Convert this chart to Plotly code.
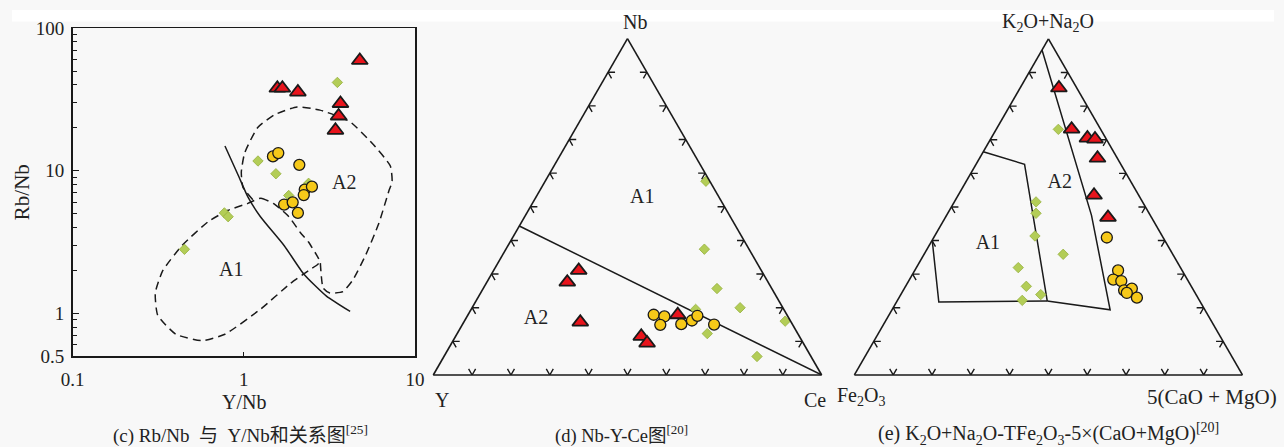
import numpy as np
import plotly.graph_objects as go

INK = "#1a1a1a"
RED = "#e8141c"
YEL = "#f6c919"
GRN = "#b3cd57"
GRN_EDGE = "#95b03e"
BG = "#f8f8f8"
SERIF = "Liberation Serif, 'Noto Sans CJK SC', serif"

# ---------------- (c) Rb/Nb vs Y/Nb ----------------
c_tri_ynb = [1.57, 1.68, 2.07, 4.76, 3.67, 3.58, 3.43]
c_tri_rbnb = [37.9, 37.9, 35.6, 59.3, 29.6, 24.2, 19.2]
c_cir_ynb = [1.48, 1.59, 2.11, 2.27, 2.50, 2.24, 1.72, 1.93, 2.07]
c_cir_rbnb = [12.6, 13.3, 11.0, 7.37, 7.73, 6.75, 5.79, 6.00, 5.06]
c_dia_ynb = [3.52, 1.21, 1.54, 2.39, 1.83, 0.77, 0.81, 0.45]
c_dia_rbnb = [41.6, 11.7, 9.52, 8.16, 6.70, 5.06, 4.76, 2.81]

# field boundaries
c_div_x = [0.776, 0.926, 1.056, 1.254, 1.723, 2.244, 3.04, 4.18]
c_div_y = [14.9, 9.33, 6.55, 4.74, 2.98, 1.88, 1.32, 1.03]
c_a1_x = [1.056, 1.259, 1.503, 1.834, 2.138, 2.388, 2.72, 2.785, 2.70, 2.388, 1.873, 1.259,
          0.776, 0.570, 0.401, 0.314, 0.304, 0.336, 0.437, 0.622, 0.811, 1.056]
c_a1_y = [5.90, 6.42, 5.85, 4.76, 3.69, 3.16, 2.45, 2.30, 2.20, 1.99, 1.62, 1.075,
          0.713, 0.643, 0.713, 0.970, 1.388, 1.99, 3.00, 4.41, 5.28, 5.90]
c_a2_x = [1.129, 0.989, 0.967, 1.011, 1.206, 1.503, 2.046, 2.785, 4.14, 5.64, 7.18, 7.35,
          7.03, 6.16, 5.16, 4.33, 3.79, 3.18, 2.91, 2.80]
c_a2_y = [6.25, 7.64, 9.77, 13.3, 20.1, 24.6, 28.0, 26.6, 22.2, 15.5, 10.8, 8.38,
          7.18, 4.30, 2.57, 1.71, 1.42, 1.39, 1.50, 2.25]

c_yticks = [0.5, 1, 10, 100]
c_yminor = [0.6, 0.7, 0.8, 0.9, 2, 3, 4, 5, 6, 7, 8, 9, 20, 30, 40, 50, 60, 70, 80, 90]
c_xticks = [0.1, 1, 10]

# ---------------- (d) Nb-Y-Ce ----------------
d_tri_nb = [0.311, 0.276, 0.157, 0.115, 0.095, 0.179]
d_tri_y = [0.470, 0.517, 0.543, 0.407, 0.402, 0.281]
d_tri_ce = [0.219, 0.207, 0.300, 0.478, 0.503, 0.540]
d_cir_nb = [0.179, 0.174, 0.149, 0.151, 0.162, 0.176, 0.150]
d_cir_y = [0.343, 0.318, 0.341, 0.286, 0.253, 0.232, 0.202]
d_cir_ce = [0.478, 0.508, 0.510, 0.563, 0.585, 0.592, 0.648]
d_dia_nb = [0.576, 0.374, 0.257, 0.200, 0.195, 0.160, 0.123, 0.055]
d_dia_y = [0.010, 0.115, 0.141, 0.110, 0.227, 0.014, 0.233, 0.139]
d_dia_ce = [0.414, 0.511, 0.602, 0.690, 0.578, 0.826, 0.644, 0.806]
d_div_nb = [0.443, 0.0]
d_div_y = [0.557, 0.0]
d_div_ce = [0.0, 1.0]

# ---------------- (e) K2O+Na2O - TFe2O3 - 5(CaO+MgO) ----------------
e_tri_alk = [0.854, 0.7315, 0.705, 0.702, 0.645, 0.535, 0.469]
e_tri_fe = [0.046, 0.0745, 0.047, 0.029, 0.051, 0.115, 0.112]
e_tri_cam = [0.100, 0.194, 0.248, 0.269, 0.304, 0.350, 0.419]
e_cir_alk = [0.409, 0.311, 0.284, 0.2795, 0.252, 0.257, 0.244, 0.230]
e_cir_fe = [0.145, 0.165, 0.191, 0.1725, 0.179, 0.1565, 0.176, 0.157]
e_cir_cam = [0.446, 0.524, 0.525, 0.548, 0.569, 0.5865, 0.580, 0.613]
e_dia_alk = [0.7306, 0.515, 0.481, 0.4136, 0.359, 0.3194, 0.2637, 0.239, 0.222]
e_dia_fe = [0.109, 0.2745, 0.2915, 0.328, 0.2825, 0.418, 0.425, 0.400, 0.4565]
e_dia_cam = [0.160, 0.2105, 0.2275, 0.2585, 0.3585, 0.2625, 0.311, 0.3605, 0.3215]
# field boundaries
e_l1_alk = [0.967, 0.475, 0.194, 0.220]
e_l1_fe = [0.033, 0.1515, 0.244, 0.393]
e_l1_cam = [0.0, 0.3735, 0.562, 0.387]
e_l2_alk = [0.664, 0.627, 0.220]
e_l2_fe = [0.336, 0.248, 0.393]
e_l2_cam = [0.0, 0.125, 0.387]
e_l3_alk = [0.220, 0.217, 0.401]
e_l3_fe = [0.393, 0.674, 0.599]
e_l3_cam = [0.387, 0.109, 0.0]

edge_marks = [0.1, 0.2, 0.3, 0.4, 0.5, 0.6, 0.7, 0.8, 0.9]

TRI = dict(symbol="triangle-up", size=14, color=RED, line=dict(color=INK, width=1.8))
CIR = dict(symbol="circle", size=11, color=YEL, line=dict(color=INK, width=1.3))
DIA = dict(symbol="diamond", size=8, color=GRN, line=dict(color=GRN_EDGE, width=0.8))

fig = go.Figure()

# ---- panel (c)
for xs, ys, dash in [(c_a1_x, c_a1_y, "8px,5px"), (c_a2_x, c_a2_y, "8px,5px"),
                     (c_div_x, c_div_y, "solid")]:
    fig.add_trace(go.Scatter(x=xs, y=ys, mode="lines", line=dict(color=INK, width=1.5, dash=dash,
                             shape="spline", smoothing=0.5), hoverinfo="skip"))
fig.add_trace(go.Scatter(x=c_dia_ynb, y=c_dia_rbnb, mode="markers", marker=DIA))
fig.add_trace(go.Scatter(x=c_cir_ynb, y=c_cir_rbnb, mode="markers", marker=CIR))
fig.add_trace(go.Scatter(x=c_tri_ynb, y=c_tri_rbnb, mode="markers", marker=TRI))


def chevron_trace(side_px, subplot, arm=7.0):
    """Small V marks along the three triangle edges, opening into the plot."""
    h = side_px * np.sqrt(3) / 2

    def shift(p, ang):
        dx = arm * np.cos(np.radians(ang))
        dy = arm * np.sin(np.radians(ang))
        da = dy / h
        dc = dx / side_px - da / 2
        return (p[0] + da, p[1] - da - dc, p[2] + dc)

    A, B, C = [], [], []
    for t in edge_marks:
        for p, angs in [((0.0, 1 - t, t), (60, 120)),
                        ((t, 1 - t, 0.0), (0, -60)),
                        ((t, 0.0, 1 - t), (180, 240))]:
            for q in (shift(p, angs[0]), p, shift(p, angs[1])):
                A.append(q[0]); B.append(q[1]); C.append(q[2])
            A.append(None); B.append(None); C.append(None)
    return go.Scatterternary(a=A, b=B, c=C, mode="lines", subplot=subplot,
                             line=dict(color=INK, width=1.4), hoverinfo="skip")


# ---- panel (d)
fig.add_trace(chevron_trace(388, "ternary"))
fig.add_trace(go.Scatterternary(a=d_div_nb, b=d_div_y, c=d_div_ce, mode="lines", subplot="ternary",
                                line=dict(color=INK, width=1.5)))
fig.add_trace(go.Scatterternary(a=[0.525, 0.165], b=[0.1995, 0.653], c=[0.2755, 0.182],
                                mode="text", text=["A1", "A2"], subplot="ternary",
                                textfont=dict(family=SERIF, size=20, color="#222")))
fig.add_trace(go.Scatterternary(a=d_dia_nb, b=d_dia_y, c=d_dia_ce, mode="markers", marker=DIA,
                                subplot="ternary"))
fig.add_trace(go.Scatterternary(a=d_cir_nb, b=d_cir_y, c=d_cir_ce, mode="markers", marker=CIR,
                                subplot="ternary"))
fig.add_trace(go.Scatterternary(a=d_tri_nb, b=d_tri_y, c=d_tri_ce, mode="markers", marker=TRI,
                                subplot="ternary"))

# ---- panel (e)
fig.add_trace(chevron_trace(387.6, "ternary2"))
for aa, bb, cc in [(e_l1_alk, e_l1_fe, e_l1_cam), (e_l2_alk, e_l2_fe, e_l2_cam),
                   (e_l3_alk, e_l3_fe, e_l3_cam)]:
    fig.add_trace(go.Scatterternary(a=aa, b=bb, c=cc, mode="lines", subplot="ternary2",
                                    line=dict(color=INK, width=1.5)))
fig.add_trace(go.Scatterternary(a=[0.570, 0.391], b=[0.186, 0.4605], c=[0.244, 0.1485],
                                mode="text", text=["A2", "A1"], subplot="ternary2",
                                textfont=dict(family=SERIF, size=20, color="#222")))
fig.add_trace(go.Scatterternary(a=e_dia_alk, b=e_dia_fe, c=e_dia_cam, mode="markers", marker=DIA,
                                subplot="ternary2"))
fig.add_trace(go.Scatterternary(a=e_cir_alk, b=e_cir_fe, c=e_cir_cam, mode="markers", marker=CIR,
                                subplot="ternary2"))
fig.add_trace(go.Scatterternary(a=e_tri_alk, b=e_tri_fe, c=e_tri_cam, mode="markers", marker=TRI,
                                subplot="ternary2"))

W, H = 1284, 447
TERN_INSET = 0.952  # the ternary scene is drawn slightly inside its domain box


def px(x):
    return x / W


def py(y):
    return 1 - y / H


tern_axis = dict(showticklabels=False, ticks="", showgrid=False, linecolor=INK, linewidth=1.6,
                 title=dict(text=""), min=0)


def tern(x0, x1, ytop, ybot):
    cx, cy = (x0 + x1) / 2, (ytop + ybot) / 2
    hw, hh = (x1 - x0) / 2 / TERN_INSET, (ybot - ytop) / 2 / TERN_INSET
    return dict(domain=dict(x=[px(cx - hw), px(cx + hw)], y=[py(cy + hh), py(cy - hh)]), sum=1,
                bgcolor="rgba(0,0,0,0)", aaxis=tern_axis, baxis=tern_axis, caxis=tern_axis)


def label(x, y, text, size=18, **kw):
    return dict(x=px(x), y=py(y), xref="paper", yref="paper", text=text, showarrow=False,
                font=dict(family=SERIF, size=size, color="#222"), xanchor="center",
                yanchor="middle", **kw)


annotations = [
    label(236, 411, "Y/Nb", size=20),
    dict(x=np.log10(0.84), y=np.log10(2.04), xref="x", yref="y", text="A1", showarrow=False,
         font=dict(family=SERIF, size=20, color="#222")),
    dict(x=np.log10(3.87), y=np.log10(8.38), xref="x", yref="y", text="A2", showarrow=False,
         font=dict(family=SERIF, size=20, color="#222")),
    label(634, 13, "Nb", size=20),
    label(437, 409, "Y", size=20),
    label(817, 409, "Ce", size=20),
    label(1054, 13, "K<sub>2</sub>O+Na<sub>2</sub>O", size=20),
    label(864, 406, "Fe<sub>2</sub>O<sub>3</sub>", size=20),
    label(1221, 406, "5(CaO + MgO)", size=21),
    label(232, 445, "(c) Rb/Nb\u2002与\u2002Y/Nb和关系图<sup>[25]</sup>", size=19),
    label(620, 445, "(d) Nb-Y-Ce图<sup>[20]</sup>", size=18.5),
    label(1055, 445, "(e) K<sub>2</sub>O+Na<sub>2</sub>O-TFe<sub>2</sub>O<sub>3</sub>-5×(CaO+MgO)<sup>[20]</sup>",
          size=20),
]

fig.update_layout(
    width=W, height=H, margin=dict(l=0, r=0, t=0, b=0), showlegend=False,
    paper_bgcolor=BG, plot_bgcolor="rgba(0,0,0,0)", hovermode=False,
    xaxis=dict(type="log", range=[-1, 1], domain=[px(61.7), px(410)], showline=True, mirror=True,
               linecolor=INK, linewidth=1.6, showgrid=False, zeroline=False, ticks="inside",
               ticklen=4, tickcolor=INK, tickvals=c_xticks, ticktext=["0.1", "1", "10"],
               ticklabelstandoff=5,
               tickfont=dict(family=SERIF, size=19, color="#222")),
    yaxis=dict(type="log", range=[np.log10(0.5), 2], domain=[py(363.3), py(19)], showline=True,
               mirror=True, linecolor=INK, linewidth=1.6, showgrid=False, zeroline=False,
               ticks="inside", ticklen=6, tickcolor=INK, tickvals=c_yticks,
               ticktext=["0.5", "1", "10", "100"], ticklabelstandoff=3,
               tickfont=dict(family=SERIF, size=19, color="#222"),
               title=dict(text="Rb/Nb", standoff=0, font=dict(family=SERIF, size=21, color="#222")),
               minor=dict(ticks="inside", ticklen=4, tickcolor=INK, tickvals=c_yminor)),
    ternary=tern(432.2, 820.2, 38.5, 374.5),
    ternary2=tern(860.7, 1248.3, 38.8, 374.5),
    annotations=annotations,
    shapes=[dict(type="rect", xref="paper", yref="paper", x0=0, x1=1, y0=py(12), y1=1,
                 fillcolor="white", line=dict(width=0), layer="below")],
)

fig.write_html("out.html", config=dict(displayModeBar=False, staticPlot=True))
